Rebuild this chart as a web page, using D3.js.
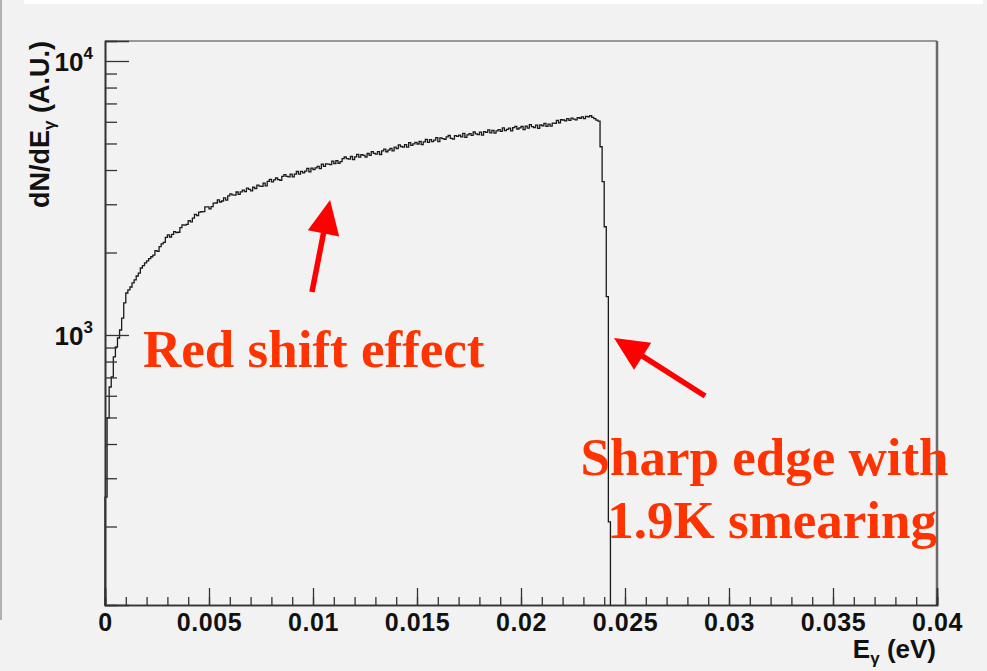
<!DOCTYPE html>
<html>
<head>
<meta charset="utf-8">
<script src="https://cdn.jsdelivr.net/npm/d3@7/dist/d3.min.js"></script>
<style>
  html, body { margin: 0; padding: 0; background: #f2f2f2; }
  svg { display: block; }
</style>
</head>
<body>
<svg id="chart" width="987" height="671"></svg>
<script>
// Photon energy spectrum: histogram with 0.0001 eV bins starting at 0
const binWidth = 0.0001;
const counts = [
  256, 498, 646, 703, 832, 904, 975, 1043, 1153, 1309,
  1423, 1460, 1497, 1549, 1588, 1642, 1683, 1756, 1790, 1833,
  1863, 1900, 1930, 1958, 2032, 2018, 2102, 2150, 2178, 2272,
  2319, 2278, 2330, 2382, 2363, 2371, 2467, 2521, 2516, 2533,
  2616, 2588, 2670, 2754, 2726, 2808, 2817, 2820, 2934, 2937,
  2884, 2942, 3029, 3032, 3114, 3057, 3083, 3166, 3108, 3219,
  3273, 3244, 3242, 3325, 3258, 3331, 3376, 3337, 3438, 3399,
  3360, 3461, 3422, 3523, 3494, 3485, 3582, 3503, 3635, 3696,
  3618, 3680, 3741, 3689, 3671, 3794, 3846, 3794, 3776, 3864,
  3776, 3864, 3951, 3864, 3956, 3907, 3964, 4055, 3937, 4063,
  4015, 4071, 4128, 4045, 4206, 4123, 4214, 4201, 4187, 4314,
  4225, 4331, 4228, 4292, 4399, 4463, 4402, 4382, 4481, 4369,
  4468, 4566, 4455, 4553, 4526, 4456, 4597, 4527, 4668, 4598,
  4571, 4669, 4558, 4698, 4765, 4664, 4731, 4798, 4698, 4849,
  4790, 4941, 4875, 4851, 4953, 4845, 5032, 4924, 4984, 5044,
  4978, 5084, 4955, 5067, 5178, 5050, 5161, 5081, 5145, 5256,
  5080, 5239, 5207, 5174, 5286, 5347, 5216, 5182, 5339, 5304,
  5366, 5283, 5440, 5262, 5371, 5432, 5350, 5507, 5424, 5389,
  5499, 5368, 5526, 5491, 5601, 5470, 5580, 5450, 5559, 5621,
  5538, 5696, 5566, 5627, 5689, 5558, 5716, 5777, 5647, 5704,
  5766, 5616, 5784, 5687, 5855, 5758, 5714, 5830, 5680, 5848,
  5804, 5919, 5769, 5884, 5787, 5933, 5920, 6071, 5952, 6103,
  6090, 6047, 6163, 6067, 6183, 6140, 6097, 6213, 6180, 6253,
  6157, 6283, 6260, 6323, 6230, 6160, 6080, 6030, 4864, 3627,
  2483, 1380, 208
];

const xDomain = [0, 0.04];
const yDomain = [103.4, 11830];
const xMajorTicks = [0, 0.005, 0.01, 0.015, 0.02, 0.025, 0.03, 0.035, 0.04];
const xTickLabels = ["0", "0.005", "0.01", "0.015", "0.02", "0.025", "0.03", "0.035", "0.04"];
const xMinorTicks = d3.range(0, 41).map(i => i / 1000);
const yMajorTicks = [1000, 10000];
const yTickExponents = ["3", "4"];
const yMinorTicks = [200, 300, 400, 500, 600, 700, 800, 900,
                     2000, 3000, 4000, 5000, 6000, 7000, 8000, 9000];

// Annotations, anchored in data coordinates (energy, dN/dE)
const notes = [
  { text: "Red shift effect", x: 0.00183, y: 764 },
  { text: "Sharp edge with", x: 0.02286, y: 308 },
  { text: "1.9K smearing", x: 0.02415, y: 181.6 }
];
const arrows = [
  { from: [0.00995, 1435], to: [0.01082, 3110] },
  { from: [0.02885, 599], to: [0.02447, 975] }
];

const W = 987, H = 671;
const m = { left: 105, top: 41, right: 50, bottom: 66 };
const iw = W - m.left - m.right, ih = H - m.top - m.bottom;

const svg = d3.select("#chart");

// page decoration: white strip at the top and thin border at the left
svg.append("rect").attr("x", 24).attr("y", 0).attr("width", 959).attr("height", 4).attr("fill", "#ffffff");
svg.append("line").attr("x1", 1).attr("x2", 1).attr("y1", 0).attr("y2", 620)
  .attr("stroke", "#9a9a9a").attr("stroke-width", 1.5);

const x = d3.scaleLinear().domain(xDomain).range([0, iw]);
const y = d3.scaleLog().domain(yDomain).range([ih, 0]).clamp(true);

const g = svg.append("g").attr("transform", `translate(${m.left},${m.top})`);

// frame: top and right edges
g.append("line").attr("x1", 0).attr("x2", iw).attr("y1", 0).attr("y2", 0)
  .attr("stroke", "#7a7a7a").attr("stroke-width", 1.5);
g.append("line").attr("x1", iw).attr("x2", iw).attr("y1", 0).attr("y2", ih)
  .attr("stroke", "#6a6a6a").attr("stroke-width", 2.5);

// histogram outline
const pts = [[0, yDomain[0]]];
counts.forEach((c, i) => {
  pts.push([i * binWidth, c]);
});
pts.push([counts.length * binWidth, counts[counts.length - 1]]);
pts.push([counts.length * binWidth, yDomain[0]]);
const histLine = d3.line()
  .x(d => x(d[0]))
  .y(d => y(d[1]))
  .curve(d3.curveStepAfter);
g.append("path").attr("d", histLine(pts))
  .attr("fill", "none").attr("stroke", "#1a1a1a").attr("stroke-width", 1.3);

const tickFont = "'Liberation Sans', Arial, Helvetica, sans-serif";

// x axis
const xMinorAxis = d3.axisBottom(x).tickValues(xMinorTicks).tickSize(-8).tickFormat("");
const xMajorAxis = d3.axisBottom(x).tickValues(xMajorTicks).tickSize(-17).tickPadding(8)
  .tickFormat((d, i) => xTickLabels[i]);
const gxMinor = g.append("g").attr("transform", `translate(0,${ih})`).call(xMinorAxis);
const gx = g.append("g").attr("transform", `translate(0,${ih})`).call(xMajorAxis);
[gxMinor, gx].forEach(a => {
  a.select(".domain").attr("stroke", "#333").attr("stroke-width", 1.6);
  a.selectAll(".tick line").attr("stroke", "#333").attr("stroke-width", 1.3);
});
gx.selectAll(".tick text")
  .attr("font-family", tickFont).attr("font-size", 25).attr("font-weight", "bold")
  .attr("letter-spacing", 0.6).attr("fill", "#111");

// y axis
const yMinorAxis = d3.axisLeft(y).tickValues(yMinorTicks).tickSize(-12).tickFormat("");
const yMajorAxis = d3.axisLeft(y).tickValues(yMajorTicks).tickSize(-24).tickFormat("");
const gyMinor = g.append("g").call(yMinorAxis);
const gy = g.append("g").call(yMajorAxis);
[gyMinor, gy].forEach(a => {
  a.select(".domain").attr("stroke", "#333").attr("stroke-width", 1.6);
  a.selectAll(".tick line").attr("stroke", "#333").attr("stroke-width", 1.3);
});
yMajorTicks.forEach((v, i) => {
  const t = g.append("text")
    .attr("x", -12).attr("y", y(v) + 10)
    .attr("text-anchor", "end")
    .attr("font-family", tickFont).attr("font-size", 26).attr("font-weight", "bold").attr("fill", "#111");
  t.append("tspan").text("10");
  t.append("tspan").attr("dy", -12).attr("font-size", 17).text(yTickExponents[i]);
});

// axis titles
const yTitle = svg.append("text")
  .attr("transform", `translate(49,${m.top}) rotate(-90)`)
  .attr("text-anchor", "end")
  .attr("font-family", tickFont).attr("font-size", 27).attr("font-weight", "bold").attr("fill", "#111");
yTitle.append("tspan").text("dN/dE");
yTitle.append("tspan").attr("dy", 6).attr("font-size", 17).text("γ");
yTitle.append("tspan").attr("dy", -6).text(" (A.U.)");

const xTitle = svg.append("text")
  .attr("x", m.left + iw - 1).attr("y", 658)
  .attr("text-anchor", "end")
  .attr("font-family", tickFont).attr("font-size", 26).attr("font-weight", "bold").attr("fill", "#111");
xTitle.append("tspan").text("E");
xTitle.append("tspan").attr("dy", 6).attr("font-size", 17).text("γ");
xTitle.append("tspan").attr("dy", -6).text(" (eV)");

// annotation arrows
arrows.forEach(a => {
  const x0 = x(a.from[0]), y0 = y(a.from[1]);
  const x1 = x(a.to[0]), y1 = y(a.to[1]);
  const dx = x1 - x0, dy = y1 - y0, len = Math.hypot(dx, dy);
  const ux = dx / len, uy = dy / len;
  const headLen = 34, headHalf = 16;
  const bx = x1 - ux * headLen, by = y1 - uy * headLen;
  g.append("line")
    .attr("x1", x0).attr("y1", y0).attr("x2", bx + ux * 2).attr("y2", by + uy * 2)
    .attr("stroke", "#ff0000").attr("stroke-width", 5.5);
  g.append("path")
    .attr("d", `M${x1},${y1}L${bx - uy * headHalf},${by + ux * headHalf}L${bx + uy * headHalf},${by - ux * headHalf}Z`)
    .attr("fill", "#ff0000");
});

// annotation text
notes.forEach(n => {
  g.append("text")
    .attr("x", x(n.x)).attr("y", y(n.y))
    .attr("font-family", "'Liberation Serif', 'Times New Roman', serif")
    .attr("font-weight", "bold").attr("font-size", 53)
    .attr("fill", "#ff3300")
    .text(n.text);
});
</script>
</body>
</html>
